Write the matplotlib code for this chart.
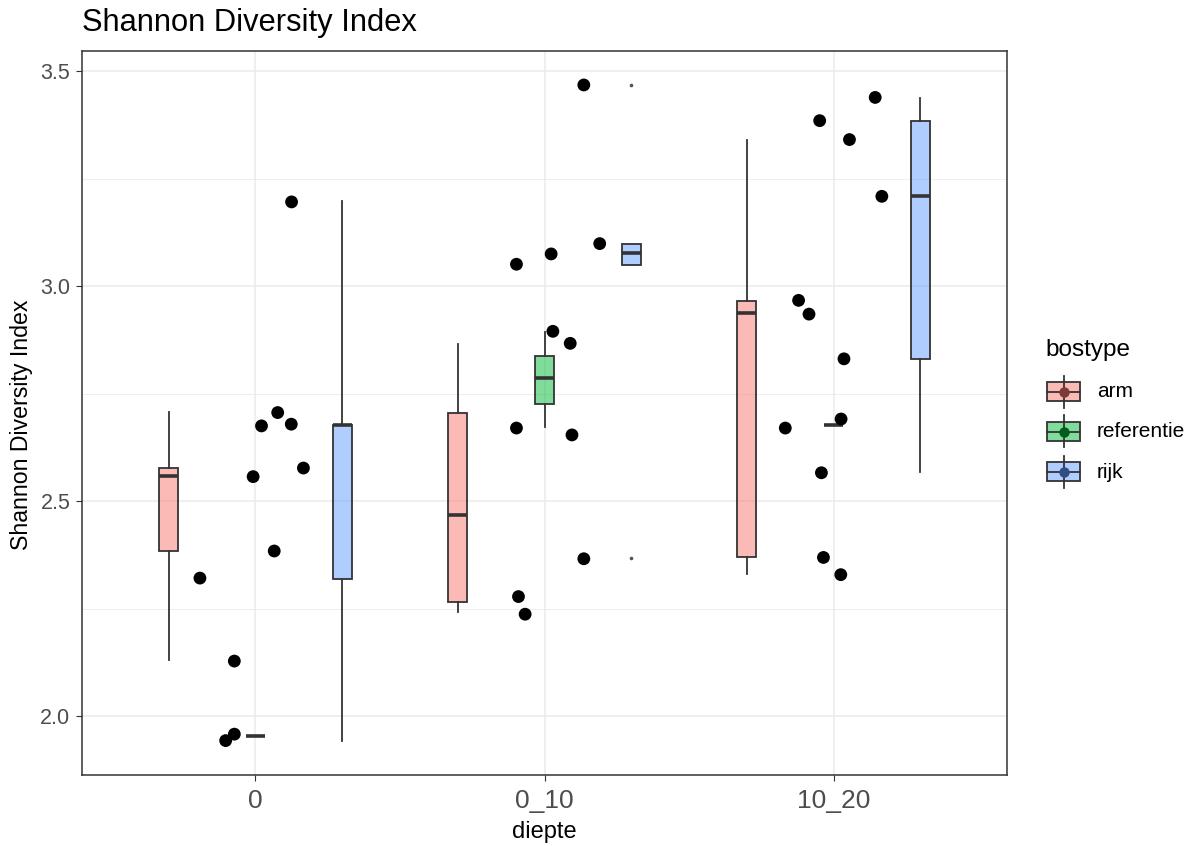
import matplotlib
matplotlib.use('Agg')
import matplotlib.pyplot as plt
from matplotlib.patches import Rectangle
from matplotlib.lines import Line2D
from matplotlib.colors import to_rgba
import numpy as np

plt.rcParams['font.family'] = ['Liberation Sans', 'DejaVu Sans']

# ---------------- data ----------------
diepte = ['0', '0_10', '10_20']
bostype = ['arm', 'referentie', 'rijk']
colors = ['#F8766D', '#00BA38', '#619CFF']

# boxplot statistics per bostype, one tuple per diepte: (whislo, q1, med, q3, whishi)
box_arm = [(2.130, 2.384, 2.559, 2.578, 2.707),
           (2.241, 2.266, 2.468, 2.706, 2.866),
           (2.331, 2.369, 2.937, 2.966, 3.341)]
box_referentie = [(1.954, 1.954, 1.954, 1.954, 1.954),
                  (2.673, 2.726, 2.786, 2.838, 2.894),
                  (2.678, 2.678, 2.678, 2.678, 2.678)]
box_rijk = [(1.942, 2.320, 2.676, 2.678, 3.197),
            (3.049, 3.049, 3.076, 3.098, 3.098),
            (2.567, 2.831, 3.210, 3.384, 3.437)]
outliers_rijk = [[], [2.367, 3.467], []]

# jittered sample points (Shannon index and jitter offset)
shannon_0 = [2.321, 2.128, 1.943, 1.958, 2.557, 2.675, 2.706, 2.679, 2.577, 2.384, 3.196]
jitter_0 = [-0.192, -0.073, -0.103, -0.073, -0.008, 0.021, 0.077, 0.124, 0.166, 0.065, 0.125]
shannon_0_10 = [3.468, 3.051, 3.075, 3.099, 2.895, 2.867, 2.670, 2.654, 2.366, 2.278, 2.237]
jitter_0_10 = [0.136, -0.097, 0.023, 0.191, 0.029, 0.089, -0.097, 0.095, 0.136, -0.090, -0.067]
shannon_10_20 = [3.439, 3.385, 3.341, 3.209, 2.967, 2.935, 2.831, 2.691, 2.670, 2.566, 2.369, 2.329]
jitter_10_20 = [0.144, -0.048, 0.055, 0.167, -0.121, -0.085, 0.036, 0.026, -0.167, -0.042, -0.035, 0.025]

# ---------------- figure ----------------
W, H, DPI = 1193, 846, 100
fig = plt.figure(figsize=(W / DPI, H / DPI), dpi=DPI)
fig.patch.set_facecolor('white')

def fx(px):
    return px / W

def fy(py):
    return 1 - py / H

L, R, T, B = 82, 1007, 51, 775
ax = fig.add_axes([fx(L), fy(B), (R - L) / W, (B - T) / H])
ax.set_xlim(0.4, 3.6)
ax.set_ylim(1.863, 3.547)

edge = '#333333'
# grid
ax.set_yticks([2.0, 2.5, 3.0, 3.5])
ax.set_yticks([2.25, 2.75, 3.25], minor=True)
ax.set_xticks([1, 2, 3])
ax.set_xticklabels(diepte)
ax.set_yticklabels(['2.0', '2.5', '3.0', '3.5'])
ax.grid(True, which='major', color='#EBEBEB', linewidth=1.1, zorder=0)
ax.grid(True, which='minor', axis='y', color='#EBEBEB', linewidth=0.6, zorder=0)
ax.set_axisbelow(True)
ax.tick_params(axis='both', which='major', length=4.3, width=0.8, color=edge, labelcolor='#4D4D4D')
ax.tick_params(axis='y', which='major', labelsize=15.5, pad=4)
ax.tick_params(axis='x', which='major', labelsize=19, pad=6)
ax.tick_params(axis='y', which='minor', length=0)
for s in ax.spines.values():
    s.set_color(edge)
    s.set_linewidth(1.1)

# boxplots
dodge = [-0.3, 0.0, 0.3]
box_width = 0.2 / 3
all_boxes = [box_arm, box_referentie, box_rijk]
for g, (boxes, col) in enumerate(zip(all_boxes, colors)):
    stats = []
    for i, (lo, q1, med, q3, hi) in enumerate(boxes):
        fl = outliers_rijk[i] if bostype[g] == 'rijk' else []
        stats.append(dict(whislo=lo, q1=q1, med=med, q3=q3, whishi=hi, fliers=fl))
    pos = [i + 1 + dodge[g] for i in range(len(diepte))]
    ax.bxp(stats, positions=pos, widths=box_width, patch_artist=True,
           showcaps=False, manage_ticks=False,
           boxprops=dict(facecolor=to_rgba(col, 0.5), edgecolor=edge, linewidth=1.3),
           medianprops=dict(color=edge, linewidth=2.6),
           whiskerprops=dict(color=edge, linewidth=1.3),
           flierprops=dict(marker='o', markersize=1.6, markerfacecolor='#555555',
                           markeredgecolor='#555555'),
           zorder=2)

# jittered points
for i, (vals, jit) in enumerate([(shannon_0, jitter_0), (shannon_0_10, jitter_0_10),
                                 (shannon_10_20, jitter_10_20)]):
    xs = [i + 1 + d for d in jit]
    ax.scatter(xs, vals, s=85, color='black', edgecolors='none', zorder=3)

# titles
fig.text(fx(82), fy(23), 'Shannon Diversity Index', ha='left', va='center', fontsize=22.2, color='black')
fig.text(fx(22), fy(425), 'Shannon Diversity Index', ha='center', va='center', rotation=90,
         fontsize=16.7, color='black')
fig.text(fx(544.5), fy(832), 'diepte', ha='center', va='center', fontsize=17, color='black')

# legend
fig.text(fx(1045), fy(350), 'bostype', ha='left', va='center', fontsize=17.5, color='black')
key_y = [391.7, 431.5, 472]
kx0, kx1 = 1047, 1080
kcx = (kx0 + kx1) / 2
for lab, col, cy in zip(bostype, colors, key_y):
    fig.add_artist(Line2D([fx(kcx), fx(kcx)], [fy(cy - 16), fy(cy + 16)], color=edge,
                          linewidth=1.3, transform=fig.transFigure))
    fig.add_artist(Rectangle((fx(kx0), fy(cy + 9.5)), (kx1 - kx0) / W, 19 / H,
                             facecolor=to_rgba(col, 0.5), edgecolor=edge, linewidth=1.3,
                             transform=fig.transFigure))
    fig.add_artist(Line2D([fx(kx0), fx(kx1)], [fy(cy), fy(cy)], color=edge,
                          linewidth=1.3, transform=fig.transFigure))
    dark = tuple(c * 0.5 for c in to_rgba(col)[:3])
    fig.add_artist(Line2D([fx(kcx)], [fy(cy)], marker='o', markersize=7.5, color=dark,
                          markeredgewidth=0, linestyle='none', transform=fig.transFigure))
    fig.text(fx(1097), fy(cy), lab, ha='left', va='center', fontsize=15, color='black')

fig.savefig('out.png', dpi=DPI, facecolor='white')
